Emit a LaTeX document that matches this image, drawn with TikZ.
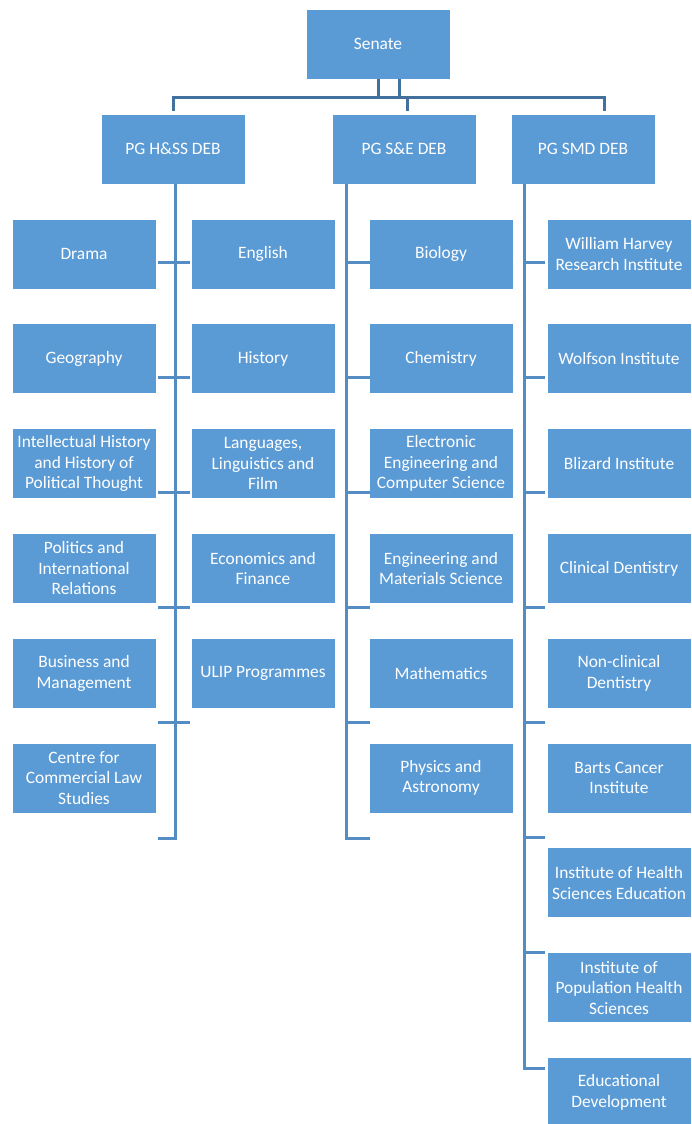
\documentclass[tikz,border=0pt]{standalone}
\usepackage{fontspec}
\setmainfont{Carlito}
\usetikzlibrary{positioning}
\definecolor{boxblue}{RGB}{91,155,213}
\definecolor{linedark}{RGB}{65,113,156}
\definecolor{linemid}{RGB}{84,141,196}

\begin{document}
\begin{tikzpicture}[
    x=0.5pt, y=-0.5pt,
    node distance=17pt and 17.1pt,
    unit/.style={fill=boxblue, draw=white, line width=0.4pt, minimum width=72pt,
                 minimum height=35pt, inner sep=1pt, text=white, align=center,
                 font=\fontsize{8.7}{10.25}\selectfont},
    topconn/.style={draw=linedark, line width=1.5pt},
    conn/.style={draw=linemid, line width=1.5pt}
  ]
  \useasboundingbox (0,0) rectangle (691,1124);

  % Senate and boards
  \node[unit] (senate) at (378,44)  {Senate};
  \node[unit] (hss)    at (173,149) {PG H\&SS DEB};
  \node[unit] (sae)    at (404,149) {PG S\&E DEB};
  \node[unit] (smd)    at (583,149) {PG SMD DEB};

  % Schools – H&SS
  \node[unit] (drama) at (84,254) {Drama};
  \node[unit, below=of drama]  (geog)     {Geography};
  \node[unit, below=of geog]   (intel)    {Intellectual History\\ and History of\\ Political Thought};
  \node[unit, below=of intel]  (politics) {Politics and\\ International\\ Relations};
  \node[unit, below=of politics] (business) {Business and\\ Management};
  \node[unit, below=of business] (ccls)   {Centre for\\ Commercial Law\\ Studies};
  \node[unit, right=of drama]  (english)  {English};
  \node[unit, below=of english] (history) {History};
  \node[unit, below=of history] (lang)    {Languages,\\ Linguistics and\\ Film};
  \node[unit, below=of lang]   (econ)     {Economics and\\ Finance};
  \node[unit, below=of econ]   (ulip)     {ULIP Programmes};

  % Schools – S&E
  \node[unit] (bio) at (441,254) {Biology};
  \node[unit, below=of bio]    (chem)     {Chemistry};
  \node[unit, below=of chem]   (eecs)     {Electronic\\ Engineering and\\ Computer Science};
  \node[unit, below=of eecs]   (sems)     {Engineering and\\ Materials Science};
  \node[unit, below=of sems]   (maths)    {Mathematics};
  \node[unit, below=of maths]  (physics)  {Physics and\\ Astronomy};

  % Institutes – SMD
  \node[unit] (whri) at (619,254) {William Harvey\\ Research Institute};
  \node[unit, below=of whri]   (wolfson)  {Wolfson Institute};
  \node[unit, below=of wolfson] (blizard) {Blizard Institute};
  \node[unit, below=of blizard] (dent)    {Clinical Dentistry};
  \node[unit, below=of dent]   (nondent)  {Non-clinical\\ Dentistry};
  \node[unit, below=of nondent] (barts)   {Barts Cancer\\ Institute};
  \node[unit, below=of barts]  (ihse)     {Institute of Health\\ Sciences Education};
  \node[unit, below=of ihse]   (iphs)     {Institute of\\ Population Health\\ Sciences};
  \node[unit, below=of iphs]   (edudev)   {Educational\\ Development};

  % Senate to boards
  \draw[topconn, shorten >=1.5pt] (senate.south) -- ++(0,18) -| (hss.north);
  \draw[topconn, shorten >=1.5pt] (senate.south) -- ++(0,18) -| ([xshift=1.5pt]sae.north);
  \draw[topconn, shorten >=1.5pt] ([xshift=10.5pt]senate.south) -- ++(0,18) -| ([xshift=10.5pt]smd.north);

  % Spines
  \coordinate (hssend)  at (175,838);
  \coordinate (hssfoot) at (158,838);
  \coordinate (saeend)  at (346,838);
  \coordinate (saefoot) at (370,838);
  \coordinate (smdend)  at (524,1068);
  \coordinate (smdfoot) at (545,1068);
  \draw[conn] (hss.south -| hssend) -- (hssend) -- (hssfoot);
  \draw[conn] (sae.south -| saeend) -- (saeend) -- (saefoot);
  \draw[conn] (smd.south -| smdend) -- (smdend) -- (smdfoot);

  % Ticks
  \foreach \k in {0,...,4}{
    \coordinate (hl\k) at (158,{262+115*\k});
    \coordinate (hr\k) at (190,{262+115*\k});
    \draw[conn] (hl\k) -- (hr\k);
    \coordinate (sl\k) at (346,{262+115*\k});
    \coordinate (sr\k) at (370,{262+115*\k});
    \draw[conn] (sl\k) -- (sr\k);
  }
  \foreach \k in {0,...,6}{
    \coordinate (ml\k) at (524,{262+115*\k});
    \coordinate (mr\k) at (545,{262+115*\k});
    \draw[conn] (ml\k) -- (mr\k);
  }
\end{tikzpicture}
\end{document}
